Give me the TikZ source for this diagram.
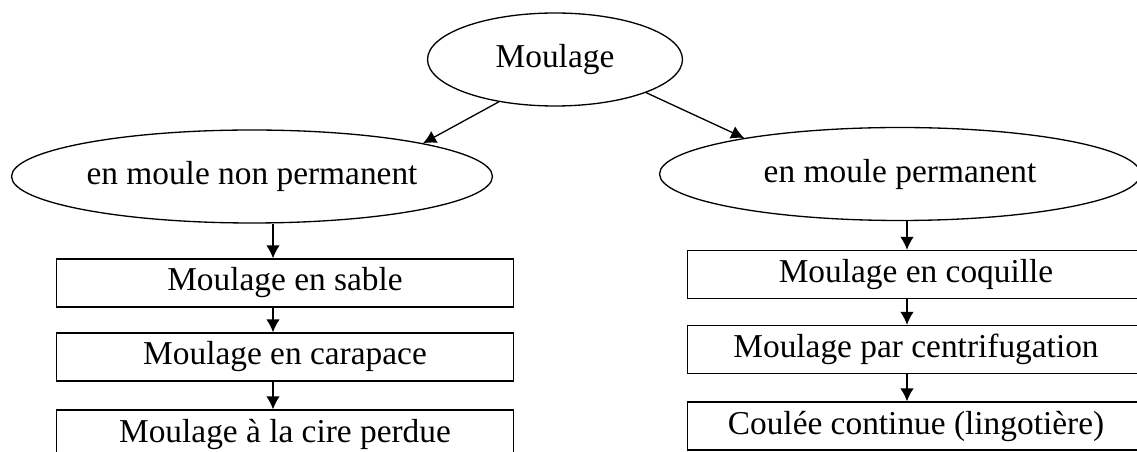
\documentclass[tikz,border=0pt]{standalone}
\usepackage{fontspec}
\setmainfont{Liberation Serif}
\usepackage{tikz}
\usetikzlibrary{shapes.geometric,arrows.meta}

\tikzset{
	ovale/.style={draw, ellipse, line width=0.75pt, inner sep=0pt, minimum height=1.86cm},
	boite/.style={draw, rectangle, line width=0.75pt, inner sep=0pt, minimum width=9.14cm, minimum height=0.96cm},
	fleche/.style={line width=0.75pt, -{Latex[length=0.26cm, width=0.27cm]}},
}

\begin{document}
\begin{tikzpicture}[x=0.02cm, y=-0.02cm, font=\fontsize{19}{23}\selectfont]
		%%%%% START %%%%%
		
		\useasboundingbox (0, 0) rectangle (1137, 452);
		\clip (0, 0) rectangle (1137, 452);
		
		\node[ovale, minimum width=5.1cm] (moulage) at (555, 59.5) {Moulage};
		\node[ovale, minimum width=9.62cm] (nonperm) at (252, 176.5) {en moule non permanent};
		\node[ovale, minimum width=9.62cm] (perm) at (900, 174) {en moule permanent};
		
		\draw[fleche] (moulage.217) -- (nonperm.11);
		\draw[fleche] (moulage.340) -- (perm.167);
		
		\node[boite] (sable) at (285, 283) {Moulage en sable};
		\node[boite] (carapace) at (285, 357) {Moulage en carapace};
		\node[boite] (cire) at (285, 434) {Moulage à la cire perdue};
		
		\node[boite] (coquille) at (916, 274.5) {Moulage en coquille};
		\node[boite] (centrif) at (916, 349.5) {Moulage par centrifugation};
		\node[boite] (continue) at (916, 426) {Coulée continue (lingotière)};
		
		\coordinate (gauche) at (273, 0);
		\coordinate (droite) at (907, 0);
		
		\draw[fleche] (nonperm.south -| gauche) -- (sable.north -| gauche);
		\draw[fleche] (sable.south -| gauche) -- (carapace.north -| gauche);
		\draw[fleche] (carapace.south -| gauche) -- (cire.north -| gauche);
		
		\draw[fleche] (perm.south -| droite) -- (coquille.north -| droite);
		\draw[fleche] (coquille.south -| droite) -- (centrif.north -| droite);
		\draw[fleche] (centrif.south -| droite) -- (continue.north -| droite);
		
		%%%%% END %%%%%
	\end{tikzpicture}
\end{document}
